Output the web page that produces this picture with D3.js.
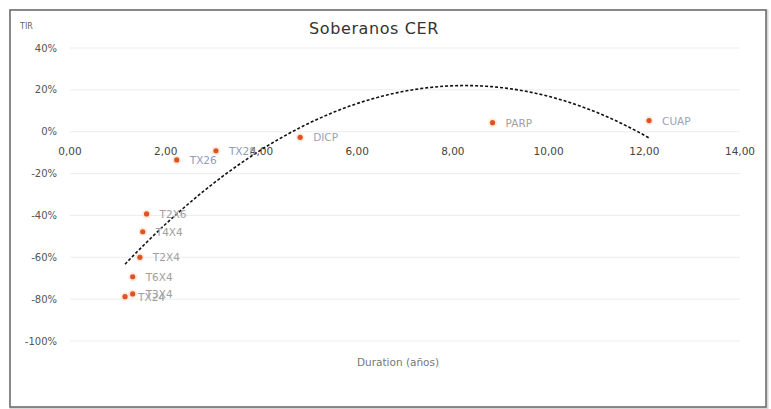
<!DOCTYPE html>
<html><head><meta charset="utf-8">
<script src="https://cdn.jsdelivr.net/npm/d3@7"></script>
<style>
html,body{margin:0;padding:0;background:#fff;}
svg{display:block;}
</style></head>
<body>
<svg id="c" width="771" height="409"></svg>
<script>
const bonds    = ["CUAP","PARP","DICP","TX28","TX26","T2X6","T4X4","T2X4","T6X4","TX24","T3X4"];
const duration = [12.10, 8.83, 4.81, 3.05, 2.23, 1.60, 1.52, 1.46, 1.31, 1.15, 1.31];
const tir      = [0.053, 0.043, -0.027, -0.091, -0.135, -0.393, -0.478, -0.600, -0.693, -0.788, -0.775];
const labelColors = ["#9aa3b0","#a0a0a0","#9aa3b0","#8e9cb8","#8e9cb8","#a0a0a0","#a0a0a0","#a0a0a0","#a0a0a0","#a0a0a0","#a0a0a0"];
const xTicks = [0,2,4,6,8,10,12,14];
const yTicks = [0.4,0.2,0,-0.2,-0.4,-0.6,-0.8,-1.0];

const svg = d3.select("#c");
const x = d3.scaleLinear().domain([0,14]).range([70,740]);
const y = d3.scaleLinear().domain([-1,0.4]).range([341,48]);

// frame
svg.append("rect").attr("x",11).attr("y",11).attr("width",756).attr("height",397)
  .attr("fill","none").attr("stroke","#d8d8d8").attr("stroke-width",3);
svg.append("rect").attr("x",10).attr("y",10).attr("width",756).attr("height",397)
  .attr("fill","#fff").attr("stroke","#6e6e6e").attr("stroke-width",1.6);

// gridlines
svg.append("g").selectAll("line").data(yTicks).join("line")
  .attr("x1",x(0)).attr("x2",x(14)).attr("y1",d=>y(d)).attr("y2",d=>y(d))
  .attr("stroke","#ececec").attr("stroke-width",1);

// y axis labels
const fmtPct = d => d3.format(".0%")(d).replace("\u2212","-");
svg.append("g").selectAll("text").data(yTicks).join("text")
  .attr("x",57).attr("y",d=>y(d)+3.5).attr("text-anchor","end")
  .attr("font-family","DejaVu Sans, sans-serif").attr("font-size",10)
  .attr("fill","#555").text(d=>fmtPct(d));

// x axis labels at y=0
const fmtX = d => d3.format(".2f")(d).replace(".",",");
svg.append("g").selectAll("text").data(xTicks).join("text")
  .attr("x",d=>x(d)).attr("y",y(0)+23).attr("text-anchor","middle")
  .attr("font-family","DejaVu Sans, sans-serif").attr("font-size",10.5)
  .attr("fill","#444").text(d=>fmtX(d));

// titles
svg.append("text").attr("x",374).attr("y",34).attr("text-anchor","middle")
  .attr("font-family","DejaVu Sans, sans-serif").attr("font-size",16).attr("letter-spacing",0.6)
  .attr("fill","#333").text("Soberanos CER");
svg.append("text").attr("x",20).attr("y",29)
  .attr("font-family","DejaVu Sans, sans-serif").attr("font-size",8)
  .attr("fill","#666").text("TIR");
svg.append("text").attr("x",398).attr("y",366).attr("text-anchor","middle")
  .attr("font-family","DejaVu Sans, sans-serif").attr("font-size",10.5)
  .attr("fill","#777").text("Duration (años)");

// polynomial (order 2) least-squares trendline
const data = bonds.map((b,i)=>({b, d:duration[i], t:tir[i], c:labelColors[i]}));
function polyfit2(xs, ys){
  let S=[0,0,0,0,0], T=[0,0,0];
  xs.forEach((xv,i)=>{ for(let k=0;k<5;k++) S[k]+=Math.pow(xv,k); for(let k=0;k<3;k++) T[k]+=ys[i]*Math.pow(xv,k); });
  const A=[[S[0],S[1],S[2],T[0]],[S[1],S[2],S[3],T[1]],[S[2],S[3],S[4],T[2]]];
  for(let i=0;i<3;i++){ for(let j=i+1;j<3;j++){ const f=A[j][i]/A[i][i]; for(let k=i;k<4;k++) A[j][k]-=f*A[i][k]; } }
  const c=[0,0,0];
  for(let i=2;i>=0;i--){ let s=A[i][3]; for(let k=i+1;k<3;k++) s-=A[i][k]*c[k]; c[i]=s/A[i][i]; }
  return c;
}
const coef = polyfit2(duration, tir);
const xmin = d3.min(duration), xmax = d3.max(duration);
const trendPts = d3.range(0,101).map(i=>{ const xv = xmin + (xmax-xmin)*i/100; return [xv, coef[0]+coef[1]*xv+coef[2]*xv*xv]; });
svg.append("path").datum(trendPts)
  .attr("d", d3.line().x(d=>x(d[0])).y(d=>y(d[1])).curve(d3.curveLinear))
  .attr("fill","none").attr("stroke","#111").attr("stroke-width",1.6).attr("stroke-dasharray","3,2");

// points
svg.append("g").selectAll("circle.h").data(data).join("circle")
  .attr("cx",d=>x(d.d)).attr("cy",d=>y(d.t)).attr("r",4.5).attr("fill","#fbe3d3").attr("opacity",0.7);
svg.append("g").selectAll("circle.p").data(data).join("circle")
  .attr("cx",d=>x(d.d)).attr("cy",d=>y(d.t)).attr("r",2.6).attr("fill","#e0521f");

// labels
svg.append("g").selectAll("text").data(data).join("text")
  .attr("x",d=>x(d.d)+13).attr("y",d=>y(d.t)+4)
  .attr("font-family","DejaVu Sans, sans-serif").attr("font-size",10.5)
  .attr("fill",d=>d.c).text(d=>d.b);
</script>
</body></html>
